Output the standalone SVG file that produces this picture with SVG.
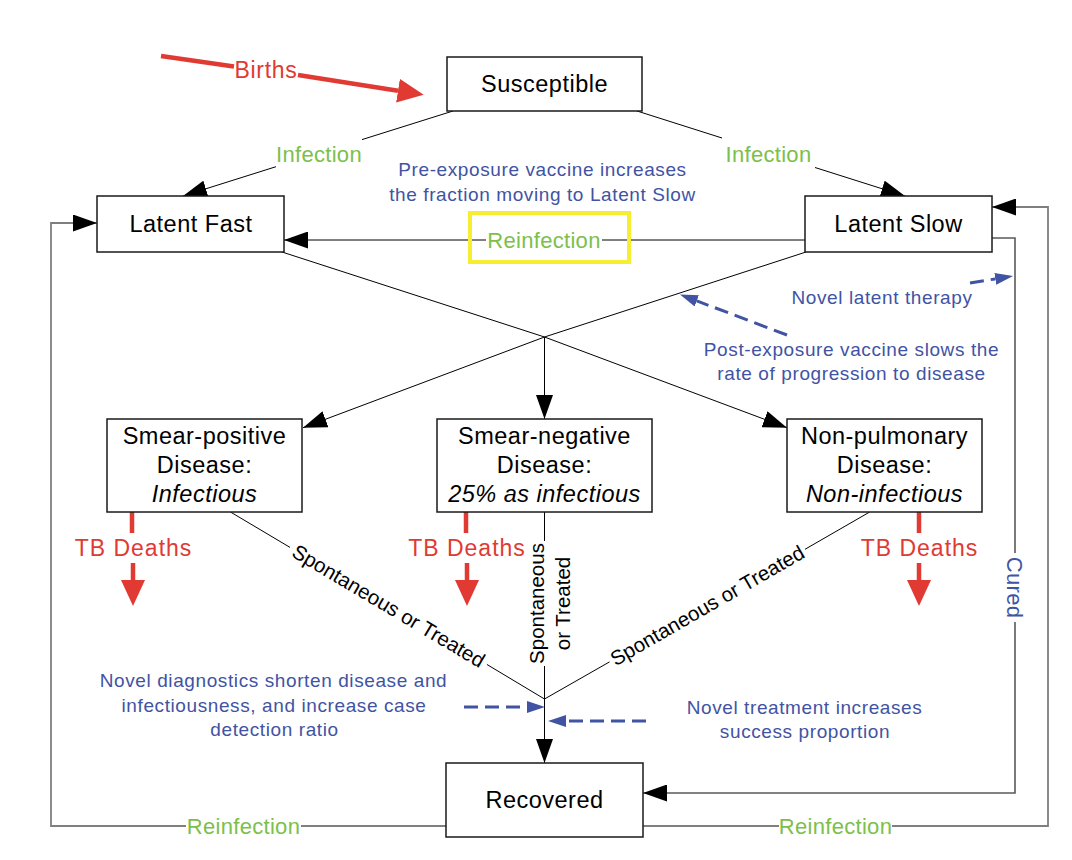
<svg xmlns="http://www.w3.org/2000/svg" width="1072" height="860" viewBox="0 0 1072 860">
<style>
  text { font-family: "Liberation Sans", Arial, Helvetica, sans-serif; }
  .box { fill: #ffffff; stroke: #1a1a1a; stroke-width: 1.5; }
  .nt { font-size: 23.5px; letter-spacing: 0.5px; fill: #000000; text-anchor: middle; }
  .it { font-style: italic; }
  .edge { stroke: #000000; stroke-width: 1; fill: none; }
  .loop { stroke: #7f7f7f; stroke-width: 1.8; fill: none; }
  .cured { stroke: #5a5a5a; stroke-width: 1.6; fill: none; }
  .green { font-size: 22px; letter-spacing: 0.3px; fill: #7CC04B; text-anchor: middle; }
  .blue { font-size: 19px; letter-spacing: 0.6px; fill: #4153A3; text-anchor: middle; }
  .cure { font-size: 22px; letter-spacing: 0.3px; fill: #4153A3; text-anchor: middle; }
  .red { font-size: 23px; letter-spacing: 1px; fill: #E03A33; text-anchor: middle; }
  .blk { font-size: 20.5px; fill: #000000; text-anchor: middle; }
  .dash { stroke: #4153A3; stroke-width: 3; stroke-dasharray: 14 7; fill: none; }
  .redline { stroke: #E03A33; stroke-width: 4.5; fill: none; }
</style>
<defs>
  <marker id="arr" markerUnits="userSpaceOnUse" viewBox="0 0 24 17" refX="24" refY="8.5" markerWidth="24" markerHeight="17" orient="auto">
    <path d="M0,0 L24,8.5 L0,17 Z" fill="#000000"/>
  </marker>
  <marker id="redarr" markerUnits="userSpaceOnUse" viewBox="0 0 26 24" refX="0" refY="12" markerWidth="26" markerHeight="24" orient="auto">
    <path d="M0,0 L26,12 L0,24 Z" fill="#E03A33"/>
  </marker>
  <marker id="bluearr" markerUnits="userSpaceOnUse" viewBox="0 0 18 12" refX="0" refY="6" markerWidth="18" markerHeight="12" orient="auto">
    <path d="M0,0 L18,6 L0,12 Z" fill="#4153A3"/>
  </marker>
</defs>
<rect x="0" y="0" width="1072" height="860" fill="#ffffff"/>

<g id="connectors">
  <!-- Births -->
  <path class="redline" d="M161,56 L234,66.5"/>
  <path class="redline" d="M298,75 L398,90.7" marker-end="url(#redarr)"/>
  <text class="red" x="266" y="77.5" style="letter-spacing:0.7px">Births</text>

  <!-- Infection left -->
  <path class="edge" d="M453,111 L362,139.6"/>
  <path class="edge" d="M276,166.7 L183,196" marker-end="url(#arr)"/>
  <text class="green" x="319" y="161.5">Infection</text>

  <!-- Infection right -->
  <path class="edge" d="M637,111 L722,138"/>
  <path class="edge" d="M815,167.5 L905,196" marker-end="url(#arr)"/>
  <text class="green" x="768.5" y="161.5">Infection</text>

  <!-- Reinfection middle -->
  <path class="edge" d="M805,240 L602,240"/>
  <path class="edge" d="M486,240 L284,240" marker-end="url(#arr)"/>
  <text class="green" x="544" y="247.5">Reinfection</text>
  <rect x="470" y="213" width="159" height="49" fill="none" stroke="#F5EE33" stroke-width="4"/>

  <!-- Latent to disease via junction -->
  <path class="edge" d="M282,252 L544.5,337"/>
  <path class="edge" d="M806,252 L544.5,337"/>
  <path class="edge" d="M544.5,337 L303,427.7" marker-end="url(#arr)"/>
  <path class="edge" d="M544.5,337 L787,427.7" marker-end="url(#arr)"/>
  <path class="edge" d="M544.5,337 L544.5,419" marker-end="url(#arr)"/>

  <!-- Disease to Recovered -->
  <path class="edge" d="M230.5,512 L290,547.4"/>
  <path class="edge" d="M487,664.5 L544.5,699"/>
  <text class="blk" transform="translate(388.5,606) rotate(30.74)" x="0" y="7">Spontaneous or Treated</text>

  <path class="edge" d="M869.7,512 L805,549.3"/>
  <path class="edge" d="M609.5,661.9 L544.5,699"/>
  <text class="blk" transform="translate(707.3,605.6) rotate(-29.94)" x="0" y="7">Spontaneous or Treated</text>

  <path class="edge" d="M544.5,512 L544.5,541"/>
  <path class="edge" d="M544.5,666 L544.5,763" marker-end="url(#arr)"/>
  <text class="blk" transform="translate(546.5,603.5) rotate(-90)" x="0" y="-2.5">Spontaneous</text>
  <text class="blk" transform="translate(546.5,603.5) rotate(-90)" x="0" y="23">or Treated</text>

  <!-- TB Deaths -->
  <path class="redline" d="M132,512 L132,533"/>
  <text class="red" x="133.5" y="556">TB Deaths</text>
  <path class="redline" d="M133,563 L133,580" marker-end="url(#redarr)"/>

  <path class="redline" d="M466,512 L466,533"/>
  <text class="red" x="467" y="556">TB Deaths</text>
  <path class="redline" d="M467,563 L467,580" marker-end="url(#redarr)"/>

  <path class="redline" d="M919,512 L919,533"/>
  <text class="red" x="919.5" y="556">TB Deaths</text>
  <path class="redline" d="M919,563 L919,580" marker-end="url(#redarr)"/>

  <!-- Loops -->
  <path class="loop" d="M446,826 L301,826 M186,826 L51,826 L51,223 L97,223" marker-end="url(#arr)"/>
  <text class="green" x="243.5" y="834">Reinfection</text>

  <path class="loop" d="M643,826 L779,826 M892,826 L1048,826 L1048,207 L992,207" marker-end="url(#arr)"/>
  <text class="green" x="835.5" y="834">Reinfection</text>

  <path class="cured" d="M992,238 L1015,238 L1015,553 M1015,622 L1015,793 L643,793" marker-end="url(#arr)"/>
  <text class="cure" transform="translate(1015,587.5) rotate(90)" x="0" y="8">Cured</text>

  <!-- Intervention arrows -->
  <path class="dash" d="M787,335 L696.8,300.9" marker-end="url(#bluearr)"/>
  <path class="dash" d="M970,283 L995.3,278.9" marker-end="url(#bluearr)"/>
  <path class="dash" d="M464,707 L527,707" marker-end="url(#bluearr)"/>
  <path class="dash" d="M646,721 L566,721" marker-end="url(#bluearr)"/>
</g>

<g id="annotations">
  <text class="blue" x="542.5" y="176">Pre-exposure vaccine increases</text>
  <text class="blue" x="542.5" y="200.5">the fraction moving to Latent Slow</text>
  <text class="blue" x="882" y="304">Novel latent therapy</text>
  <text class="blue" x="851.5" y="356">Post-exposure vaccine slows the</text>
  <text class="blue" x="851.5" y="379.5">rate of progression to disease</text>
  <text class="blue" x="273.5" y="687">Novel diagnostics shorten disease and</text>
  <text class="blue" x="274" y="711.5">infectiousness, and increase case</text>
  <text class="blue" x="274.5" y="736">detection ratio</text>
  <text class="blue" x="804.5" y="713.5">Novel treatment increases</text>
  <text class="blue" x="805" y="738">success proportion</text>
</g>

<g id="susceptible">
  <rect class="box" x="447" y="57" width="195" height="54"/>
  <text class="nt" x="544.5" y="92">Susceptible</text>
</g>
<g id="latent-fast">
  <rect class="box" x="97" y="196" width="187" height="56"/>
  <text class="nt" x="191" y="232">Latent Fast</text>
</g>
<g id="latent-slow">
  <rect class="box" x="805" y="196" width="187" height="56"/>
  <text class="nt" x="898.5" y="232">Latent Slow</text>
</g>
<g id="smear-positive">
  <rect class="box" x="107" y="419" width="195" height="93"/>
  <text class="nt" x="204.5" y="443.5">Smear-positive</text>
  <text class="nt" x="204.5" y="472.5">Disease:</text>
  <text class="nt it" x="204.5" y="502">Infectious</text>
</g>
<g id="smear-negative">
  <rect class="box" x="437" y="419" width="215" height="93"/>
  <text class="nt" x="544.5" y="443.5">Smear-negative</text>
  <text class="nt" x="544.5" y="472.5">Disease:</text>
  <text class="nt it" x="544.5" y="502">25% as infectious</text>
</g>
<g id="non-pulmonary">
  <rect class="box" x="787" y="419" width="195" height="93"/>
  <text class="nt" x="884.5" y="443.5">Non-pulmonary</text>
  <text class="nt" x="884.5" y="472.5">Disease:</text>
  <text class="nt it" x="884.5" y="502">Non-infectious</text>
</g>
<g id="recovered">
  <rect class="box" x="446" y="763" width="197" height="74"/>
  <text class="nt" x="544.5" y="808">Recovered</text>
</g>
</svg>
